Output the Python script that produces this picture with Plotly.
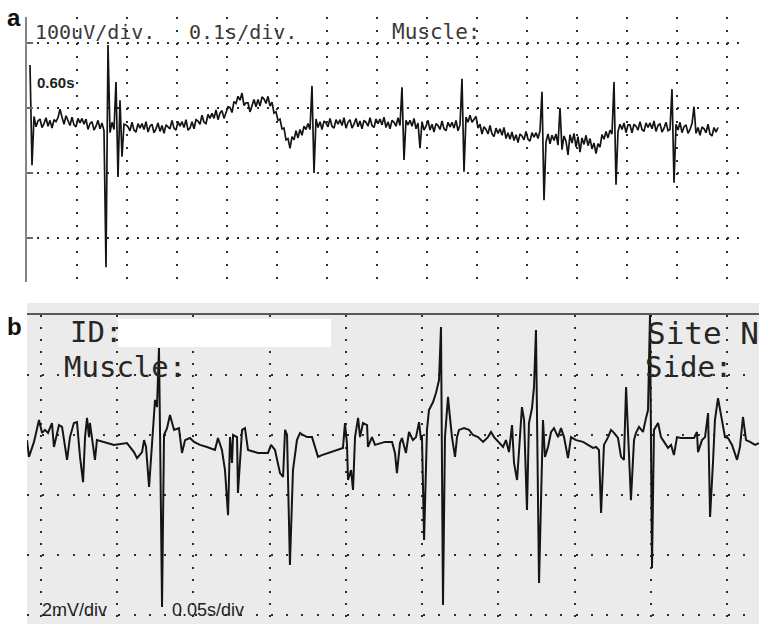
import plotly.graph_objects as go

# ---------------------------------------------------------------
# Panel a: surface recording, 100 uV/div, 0.1 s/div
# one sample every 4 ms, first sample at 6 ms
# ---------------------------------------------------------------
A_T0 = 0.006
A_DT = 0.004
a_uv = [
    66, -88, -13, -29, -20, -17, -30, -24, -15, -28, -19, -31, -18, -21, -15, -2, -14, -25, -12, -19,
    -27, -14, -26, -29, -16, -23, -16, -25, -17, -33, -24, -21, -34, -28, -19, -32, -23, -35, -245, 97,
    -38, -22, -33, 40, -106, 12, -75, -25, -26, -29, -35, -22, -34, -37, -24, -31, -24, -33, -21, -37,
    -28, -25, -38, -32, -23, -36, -27, -39, -26, -29, -32, -19, -31, -34, -21, -28, -21, -30, -18, -34,
    -31, -21, -32, -18, -20, -25, -11, -22, -24, -10, -16, -8, -16, -3, -18, -8, -4, -16, -8, 2,
    1, -7, 10, 7, 18, 12, 23, 4, 8, 8, -6, 2, 13, 2, 13, 3, 17, 14, 7, 18,
    3, 9, -8, -6, -19, -17, -32, -31, -49, -47, -62, -44, -49, -35, -46, -33, -42, -28, -33, -24,
    -33, 34, -100, -17, -30, -21, -33, -20, -23, -29, -16, -28, -31, -18, -25, -18, -27, -15, -31, -22,
    -18, -31, -25, -16, -29, -20, -32, -19, -22, -28, -15, -27, -30, -17, -24, -17, -26, -14, -30, -21,
    -32, -19, -22, -28, -15, -27, 32, -80, -19, -26, -19, -28, -16, -32, -23, -62, -21, -34, -28, -19,
    -34, -25, -37, -24, -27, -33, -20, -32, -35, -22, -29, -22, -31, -19, -35, -26, 45, -98, -14, -22,
    -11, -22, -18, -13, -31, -25, -40, -29, -33, -40, -27, -40, -44, -31, -39, -32, -42, -30, -47, -38,
    -48, -37, -50, -41, -53, -40, -43, -49, -36, -48, -51, -38, -45, -38, -47, -35, 25, -142, -52, -40,
    -55, -42, -50, -40, -57, 0, -64, -43, -51, -72, -41, -54, -39, -60, -44, -68, -46, -56, -42, -58,
    -47, -63, -54, -70, -55, -60, -41, -48, -36, -46, -34, -40, 40, -118, -36, -25, -33, -23, -38, -26,
    -26, -38, -25, -28, -34, -21, -33, -36, -23, -30, -23, -32, -20, -36, -27, -24, -37, -31, -22, -35,
    -33, 29, -115, -25, -34, -22, -38, -29, -26, -39, -33, -24, 2, -39, -30, -42, -29, -32, -38, -25,
    -40, -43, -30, -37, -30,
]
a_t = [A_T0 + A_DT * i for i in range(len(a_uv))]

# ---------------------------------------------------------------
# Panel b: needle recording, 2 mV/div, 0.05 s/div (time in ms)
# ---------------------------------------------------------------
b_ms = [
    -9.2, -7.9, -4.6, -1.3, 0.7, 2.6, 4.6, 7.2, 8.5, 11.8, 13.8, 17.1, 19.0, 21.6, 23.6, 25.6, 27.6,
    28.9, 30.2, 31.5, 32.1, 34.8, 35.4, 36.7, 41.3, 47.9, 56.4, 61.0, 63.0, 66.3, 67.6, 68.9, 70.9,
    72.2, 73.5, 74.8, 76.1, 77.4, 78.1, 79.4, 80.7, 82.7, 84.6, 87.3, 90.5, 92.5, 94.5, 97.7, 100.4,
    104.3, 108.9, 114.1, 116.1, 118.7, 120.7, 122.7, 124.0, 125.3, 126.0, 128.6, 129.2, 130.5, 131.9,
    133.8, 135.8, 142.4, 148.9, 150.9, 153.5, 156.8, 158.8, 160.1, 161.4, 163.3, 165.3, 167.9, 169.9,
    171.9, 174.5, 177.8, 179.7, 181.7, 184.3, 188.3, 194.8, 198.1, 199.4, 200.7, 201.4, 203.4, 204.7,
    206.0, 208.0, 209.3, 211.2, 213.9, 214.5, 217.1, 219.1, 225.7, 230.3, 232.2, 233.5, 235.5, 236.8,
    239.4, 241.4, 244.0, 246.0, 248.0, 249.3, 249.9, 251.3, 253.2, 254.5, 257.2, 259.1, 261.1, 262.4,
    263.7, 265.0, 267.0, 267.6, 269.6, 271.6, 272.9, 274.2, 277.5, 280.8, 283.4, 286.7, 290.0, 293.2,
    295.2, 297.2, 300.4, 303.1, 305.0, 307.0, 309.0, 310.3, 312.3, 313.6, 315.5, 316.9, 318.8, 320.1,
    322.1, 323.4, 324.7, 326.7, 329.3, 330.6, 332.6, 334.6, 336.5, 339.2, 341.1, 343.1, 345.7, 347.7,
    351.0, 355.6, 358.8, 362.1, 364.1, 366.0, 367.4, 369.3, 372.0, 373.9, 375.9, 378.5, 380.5, 382.4,
    383.8, 385.1, 387.0, 389.0, 390.3, 392.3, 394.9, 396.9, 398.2, 399.5, 400.8, 402.1, 404.8, 406.7,
    408.7, 411.3, 413.3, 415.2, 417.2, 419.8, 424.4, 428.4, 430.3, 431.0, 433.6, 435.6, 437.6, 438.9,
    440.8, 442.1, 444.1, 446.7, 448.7, 450.7, 453.3, 456.6, 458.5, 460.5, 462.5, 465.1, 468.4, 471.0,
]
b_mv = [
    -0.17, -0.73, -0.23, 0.50, 0.07, 0.17, 0.07, 0.40, -0.40, 0.33, 0.27, -0.83, -0.07, 0.40, 0.43,
    -0.73, -1.57, -0.07, 0.57, -0.07, 0.40, -0.60, -0.83, -0.17, -0.23, -0.33, -0.27, -0.57, -0.77,
    -0.57, -0.17, -0.40, -1.73, -0.73, 0.50, 1.17, 0.93, 2.90, 0.07, -5.73, 0.00, 0.23, 0.67, 0.17,
    0.23, -0.60, -0.17, -0.10, -0.23, -0.33, -0.40, -0.50, -0.10, -0.50, -1.17, -2.67, -0.07, -0.93,
    0.00, -0.07, -1.93, -0.73, 0.17, 0.23, -0.50, -0.60, -0.60, -0.33, -0.50, -1.27, -1.40, 0.17,
    0.00, -4.33, -1.17, -0.17, 0.07, 0.00, -0.07, -0.07, -0.43, -0.73, -0.67, -0.60, -0.50, -0.43,
    0.40, -0.27, -1.50, -1.17, -1.83, -0.07, 0.57, -0.07, 0.40, 0.33, -0.40, -0.07, -0.33, -0.23,
    -0.23, -0.60, -1.27, -0.27, -0.10, -0.60, 0.10, -0.17, -0.07, 0.43, -0.17, 0.00, -3.50, 0.17,
    0.83, 1.10, 1.40, 1.83, 3.60, -5.67, -0.07, 1.27, 0.93, -0.07, -0.73, -0.07, 0.17, 0.23, 0.17,
    0.00, -0.07, -0.23, -0.07, 0.10, -0.07, -0.23, -0.40, -0.17, -0.57, 0.33, -0.93, -1.50, -0.60,
    0.93, 0.50, -2.50, 0.40, 0.90, 1.60, 3.50, -4.93, 0.50, -0.73, -0.40, 0.10, 0.23, -0.07, 0.23,
    -0.07, -0.77, -0.07, -0.17, -0.23, -0.33, -0.43, -0.40, -0.50, -2.60, -0.33, -0.07, 0.17, 0.07,
    -0.10, -0.73, -0.83, 1.60, -0.07, -2.17, -0.17, 0.07, 0.27, 0.10, 0.57, 0.83, 4.00, -4.43, 0.17,
    0.40, -0.07, -0.23, -0.43, -0.33, -0.67, -0.07, -0.10, -0.10, -0.10, 0.10, -0.57, -0.17, -0.07,
    0.73, -2.73, -0.93, 0.50, 1.23, 0.50, -0.07, -0.10, -0.33, -0.83, -0.40, 0.60, -0.17, -0.23,
    -0.33, -0.27,
]
assert len(b_ms) == len(b_mv), (len(b_ms), len(b_mv))

# ---------------------------------------------------------------
W, H = 759, 624


def fx(x):
    return x / W


def fy(y):
    return 1 - y / H


MONO = "DejaVu Sans Mono"
SANS = "Liberation Sans, Arial, sans-serif"
DOT = "#2e2e2e"

fig = go.Figure()
fig.add_trace(go.Scatter(x=a_t, y=a_uv, mode="lines", xaxis="x", yaxis="y",
                         line=dict(color="#141414", width=1.7), hoverinfo="skip"))
fig.add_trace(go.Scatter(x=b_ms, y=b_mv, mode="lines", xaxis="x2", yaxis="y2",
                         line=dict(color="#151515", width=2), hoverinfo="skip"))

common = dict(showticklabels=False, zeroline=False, fixedrange=True)

fig.update_layout(
    width=W, height=H,
    margin=dict(l=0, r=0, t=0, b=0),
    paper_bgcolor="white", plot_bgcolor="rgba(0,0,0,0)",
    showlegend=False,
    xaxis=dict(domain=[fx(27), fx(740)], range=[0, 1.426], anchor="y",
               tick0=0, dtick=0.1, showgrid=True, gridcolor=DOT, gridwidth=2,
               griddash="2px,11px", showline=False, ticks="", **common),
    yaxis=dict(domain=[fy(282), fy(17)], range=[-267.69, 140], anchor="x",
               tick0=0, dtick=100, showgrid=True, gridcolor=DOT, gridwidth=2,
               griddash="2px,8px", showline=True, linecolor="#858585", linewidth=2,
               ticks="inside", ticklen=6, tickwidth=2, tickcolor="#6a6a6a", **common),
    xaxis2=dict(domain=[fx(27), 1], range=[-9.18, 471.0], anchor="y2", side="top",
                tick0=0, dtick=50, showgrid=True, gridcolor=DOT, gridwidth=2,
                griddash="2px,10px", showline=True, linecolor="#585858", linewidth=2,
                ticks="", **common),
    yaxis2=dict(domain=[0, fy(315)], range=[-6.3, 4.0], anchor="x2",
                tick0=0, dtick=2, showgrid=True, gridcolor=DOT, gridwidth=2,
                griddash="2px,13.24px", showline=False, ticks="", **common),
)

# grey screen background of the needle recording and the blanked ID field
fig.add_shape(type="rect", xref="paper", yref="paper", layer="below",
              x0=fx(27), x1=1, y0=0, y1=fy(303),
              line=dict(width=0), fillcolor="#ebebeb")
fig.add_shape(type="rect", xref="paper", yref="paper", layer="above",
              x0=fx(118), x1=fx(331), y0=fy(347), y1=fy(319),
              line=dict(width=0), fillcolor="white")


def label(text, x, y, size, family, color="#222", bold=False, anchor="left"):
    fig.add_annotation(text=f"<b>{text}</b>" if bold else text,
                       x=fx(x), y=fy(y), xref="paper", yref="paper",
                       xanchor=anchor, yanchor="middle", showarrow=False,
                       font=dict(size=size, family=family, color=color))


# panel letters
label("a", 14, 17, 24, SANS, "#111", bold=True, anchor="center")
label("b", 14, 326, 24, SANS, "#111", bold=True, anchor="center")

# panel a screen text
label("100uV/div.", 33, 32, 20, MONO, "#3a3a3a")
label("0.1s/div.", 187, 32, 20, MONO, "#3a3a3a")
label("Muscle:", 390, 32, 21, MONO, "#3a3a3a")
label("0.60s", 35, 83, 15, SANS, "#222", bold=True)

# panel b screen text
label("ID:", 68, 332, 29, MONO, "#262626")
label("Muscle:", 62, 367, 29, MONO, "#262626")
label("Site N", 645, 333, 31, MONO, "#262626")
label("Side:", 643, 367, 29, MONO, "#262626")
label("2mV/div", 40, 610, 18, SANS, "#222")
label("0.05s/div", 170, 610, 18, SANS, "#222")

fig.write_html("out.html")
